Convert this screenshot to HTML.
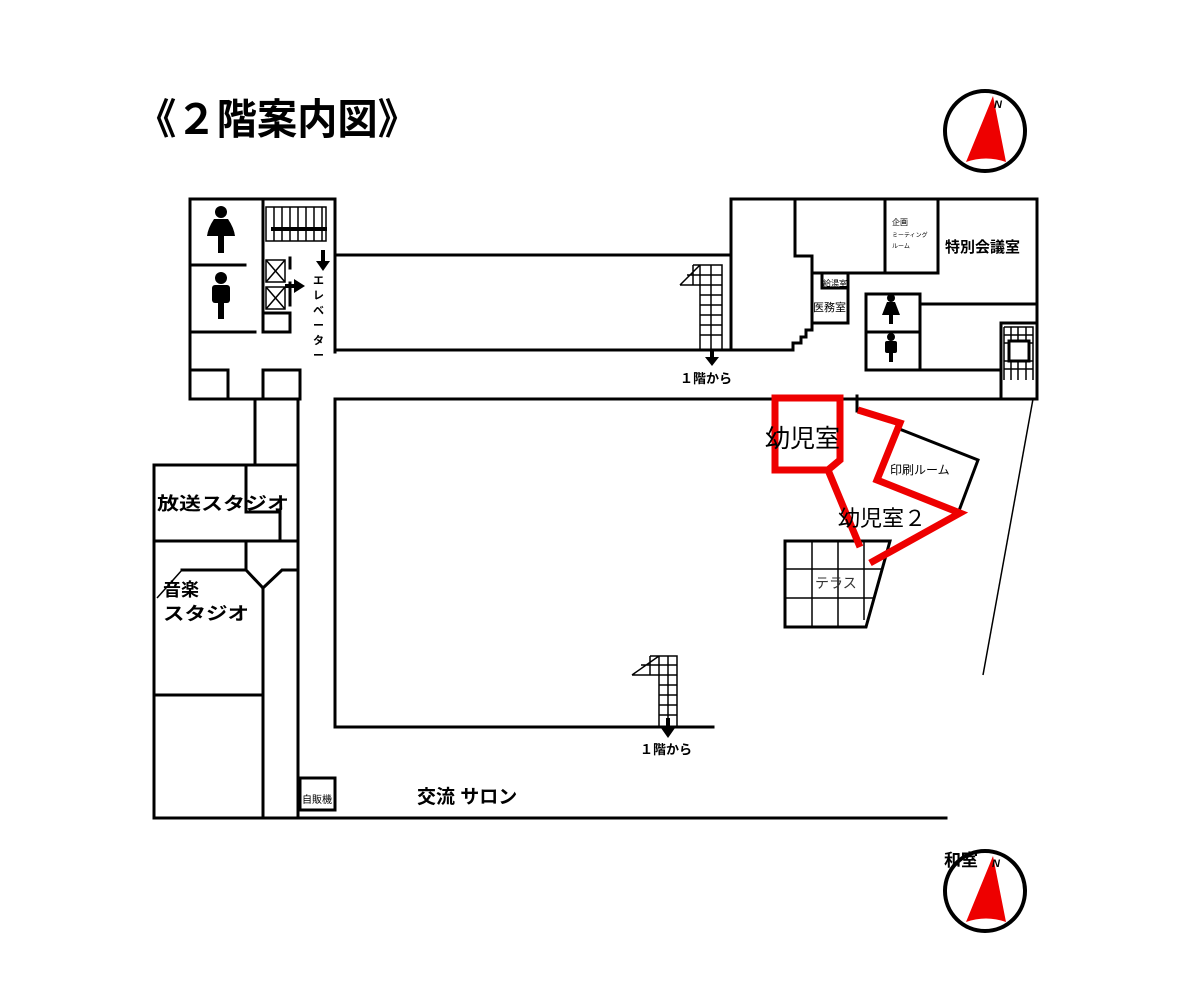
<!DOCTYPE html>
<html><head><meta charset="utf-8"><style>
html,body{margin:0;padding:0;background:#fff;}
svg{display:block;}
text{font-family:"Liberation Sans","Noto Sans CJK JP",sans-serif;}
</style></head><body>
<svg width="1193" height="1000" viewBox="0 0 1193 1000" xmlns="http://www.w3.org/2000/svg">
<rect width="1193" height="1000" fill="#fff"/>
<text x="136" y="134" font-size="42" font-weight="bold" textLength="282" lengthAdjust="spacingAndGlyphs">《２階案内図》</text>

<g fill="none" stroke="#000" stroke-width="3" stroke-linecap="square">
<path d="M190,199 H335 V352"/>
<path d="M190,199 V399 H300"/>
<path d="M263,199 V332"/>
<path d="M190,265 H245"/>
<path d="M190,332 H255"/>
<path d="M263,313 H290 V332 H263"/>
<path d="M190,370 H228 V399"/>
<path d="M263,399 V370 H300 V399"/>
<path d="M255,399 V465"/>
<path d="M298,399 V465"/>
<path d="M290,258 V268 M290,283 V305"/>
<path d="M335,255 H731"/>
<path d="M335,350 H731"/>
<path d="M335,399 H1037"/>
<path d="M335,399 V727 H713"/>
<path d="M731,199 H1037 V399"/>
<path d="M731,199 V350 H793 V343 H801 V337 H806 V330 H812 V256 H795 V199"/>
<path d="M812,273 H938 V199"/>
<path d="M885,199 V273"/>
<path d="M813,323 H848 V273"/>
<path d="M822,273 V288 H848"/>
<path d="M866,294 H920 V370 H866 Z"/>
<path d="M866,332 H920"/>
<path d="M920,304 H1037"/>
<path d="M920,370 H1001"/>
<path d="M1001,323 H1037 M1001,323 V399"/>
<path d="M857,396 V411"/>
<path d="M154,465 H298 V818"/>
<path d="M154,465 V818 H946"/>
<path d="M246,465 V512 H280 V541"/>
<path d="M154,541 H298"/>
<path d="M246,541 V570"/>
<path d="M182,570 H246 L263,588 V818"/>
<path d="M263,588 L282,570 H298"/>
<path d="M154,695 H263"/>
<path d="M300,778 H335 V810 H300 Z"/>
<path d="M785,541 H890 L866,627 H785 Z"/>
<path d="M902,430 L978,460 L960,508"/>
</g>
<g stroke="#000" stroke-width="1.5" fill="none">
<path d="M182,570 L157,598"/>
<path d="M1033,399 L983,675"/>
<path d="M812,541 V627 M838,541 V627 M864,541 V620 M785,569 H882 M785,598 H874"/>
<rect x="266" y="207" width="60" height="34"/>
<path d="M274,207 V241 M282,207 V241 M290,207 V241 M298,207 V241 M306,207 V241 M314,207 V241 M322,207 V241"/>
<rect x="266" y="260" width="19" height="22"/><path d="M266,260 L285,282 M285,260 L266,282"/>
<rect x="266" y="287" width="19" height="22"/><path d="M266,287 L285,309 M285,287 L266,309"/>
<path d="M1004,327 H1033 V380 M1004,327 V380 M1011,327 V380 M1018,327 V380 M1026,327 V380 M1004,335 H1033 M1004,343 H1033 M1004,361 H1033 M1004,369 H1033"/>
<path d="M700,265 H722 V350 M700,265 V350 M711,265 V350 M680,285 H722 M693,265 H700 L680,285 M693,265 V285 M700,275 H722 M700,295 H722 M700,305 H722 M700,315 H722 M700,325 H722 M700,335 H722 M687,275 H700"/>
<path d="M659,656 H677 V727 M659,656 V727 M668,656 V727 M632,675 H677 M650,656 H659 L632,675 M650,656 V675 M641,665 H677 M659,685 H677 M659,695 H677 M659,705 H677 M659,715 H677"/>
</g>
<rect x="1009" y="341" width="20" height="20" fill="#fff" stroke="#000" stroke-width="3"/>
<path d="M271,229 H327" stroke="#000" stroke-width="4"/>

<g fill="#000">
<rect x="321" y="250" width="4" height="12"/><polygon points="316,261 330,261 323,271"/>
<rect x="285" y="284" width="10" height="4"/><polygon points="294,279 294,293 305,286"/>
<rect x="710" y="350" width="4" height="8"/><polygon points="705,357 719,357 712,366"/>
<rect x="666" y="718" width="4" height="10"/><polygon points="661,728 675,728 668,738"/>
</g>

<g fill="#000">
<circle cx="221" cy="212" r="6"/><path d="M214,219 H228 Q234,228 235,236 H207 Q208,228 214,219 Z"/><rect x="218" y="234" width="6" height="19"/>
<circle cx="221" cy="278" r="6"/><rect x="212" y="285" width="18" height="18" rx="3"/><rect x="218" y="300" width="6" height="19"/>
<circle cx="891" cy="298" r="4"/><path d="M887,302 H895 L900,315 H882 Z"/><rect x="889" y="312" width="4" height="12"/>
<circle cx="891" cy="337" r="4"/><rect x="885" y="341" width="12" height="12" rx="2"/><rect x="889" y="350" width="4" height="12"/>
</g>

<g fill="none" stroke="#e00" stroke-width="7" stroke-linejoin="miter">
<path d="M775,398 H840 V460 L828,470 H775 Z"/>
<path d="M828,470 L860,547"/>
<path d="M858,410 L900,423 L877,480 L960,513 L870,563"/>
</g>

<g>
<circle cx="985" cy="131" r="40" fill="#fff" stroke="#000" stroke-width="4"/>
<path d="M993,96 L966,162 Q986,155 1006,162 Z" fill="#e00"/>
<text x="994" y="108" font-size="11" font-weight="bold" font-style="italic">N</text>
<circle cx="985" cy="891" r="40" fill="#fff" stroke="#000" stroke-width="4"/>
<path d="M993,856 L966,922 Q986,915 1006,922 Z" fill="#e00"/>
<text x="992" y="867" font-size="11" font-weight="bold" font-style="italic">N</text>
<text x="944" y="866" font-size="17" font-weight="bold">和室</text>
</g>

<g font-weight="bold" fill="#000">
<text x="680" y="383" font-size="13">１階から</text>
<text x="640" y="754" font-size="13">１階から</text>
<text x="417" y="803" font-size="19">交流 サロン</text>
<text x="157" y="510" font-size="18" textLength="132" lengthAdjust="spacingAndGlyphs">放送スタジオ</text>
<text x="163" y="596" font-size="18">音楽</text>
<text x="163" y="620" font-size="18" textLength="86" lengthAdjust="spacingAndGlyphs">スタジオ</text>
<text x="945" y="252" font-size="15">特別会議室</text>
<text font-size="11" x="313" y="284">エ</text>
<text font-size="11" x="313" y="299">レ</text>
<text font-size="11" x="313" y="314">ベ</text>
<text font-size="11" x="313" y="329">ー</text>
<text font-size="11" x="313" y="344">タ</text>
<text font-size="11" x="313" y="359">ー</text>
</g>
<g fill="#000">
<text x="765" y="447" font-size="25">幼児室</text>
<text x="838" y="526" font-size="22">幼児室２</text>
<text x="890" y="474" font-size="12">印刷ルーム</text>
<text x="815" y="588" font-size="14" fill="#333">テラス</text>
<text x="892" y="225" font-size="8">企画</text>
<text x="892" y="237" font-size="6">ミーティング</text>
<text x="892" y="248" font-size="6">ルーム</text>
<text x="823" y="286" font-size="8">給湯室</text>
<text x="813" y="311" font-size="11">医務室</text>
<text x="302" y="803" font-size="10">自販機</text>
</g>
</svg>
</body></html>
